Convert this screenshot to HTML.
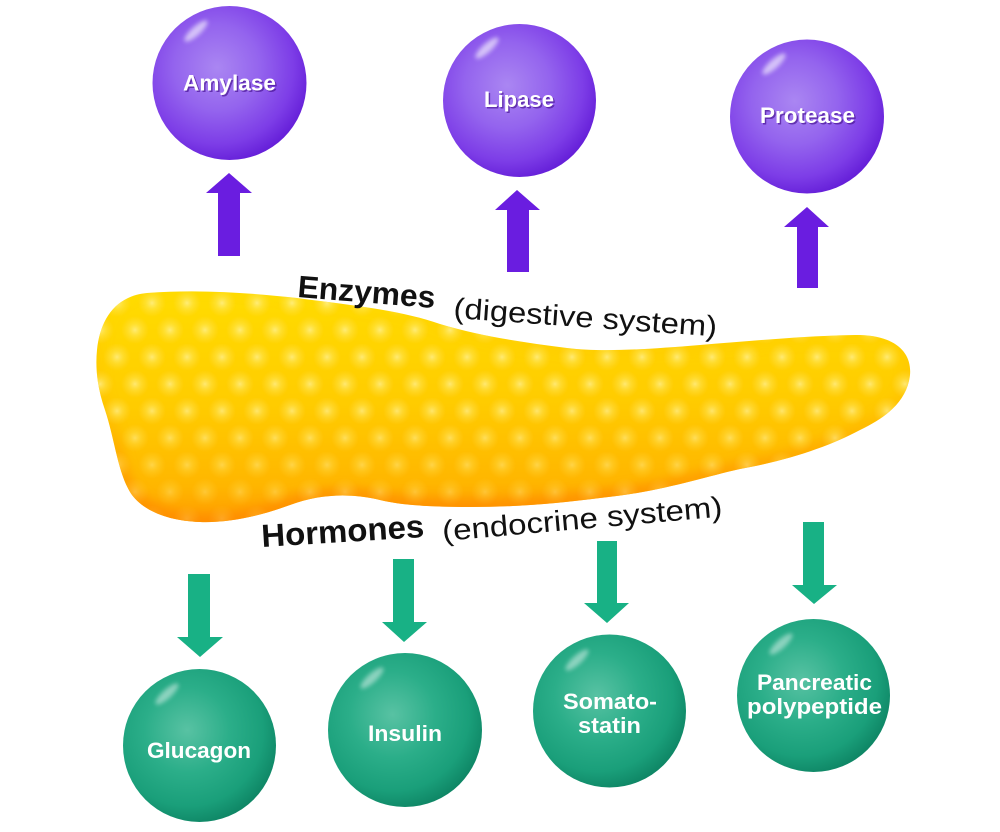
<!DOCTYPE html>
<html><head><meta charset="utf-8"><style>
html,body{margin:0;padding:0;background:#fff;}
svg{display:block;}
</style></head><body>
<svg width="1000" height="832" viewBox="0 0 1000 832" xmlns="http://www.w3.org/2000/svg">
<defs>
<radialGradient id="pg" cx="0.42" cy="0.4" r="0.62">
<stop offset="0" stop-color="#aa86f2"/>
<stop offset="0.45" stop-color="#9464ee"/>
<stop offset="0.8" stop-color="#7d3de7"/>
<stop offset="1" stop-color="#6620d9"/>
</radialGradient>
<radialGradient id="gg" cx="0.42" cy="0.4" r="0.62">
<stop offset="0" stop-color="#58c2a3"/>
<stop offset="0.45" stop-color="#2bae89"/>
<stop offset="0.8" stop-color="#1a9f7a"/>
<stop offset="1" stop-color="#0f8766"/>
</radialGradient>
<filter id="blur2" x="-50%" y="-50%" width="200%" height="200%"><feGaussianBlur stdDeviation="2"/></filter>
<filter id="blur5" x="-20%" y="-20%" width="140%" height="140%"><feGaussianBlur stdDeviation="5"/></filter>
<linearGradient id="yg" x1="0" y1="0" x2="0.05" y2="1">
<stop offset="0" stop-color="#ffdc00"/>
<stop offset="0.5" stop-color="#ffcc00"/>
<stop offset="0.85" stop-color="#ffb600"/>
<stop offset="1" stop-color="#ff9c00"/>
</linearGradient>
<linearGradient id="edgeg" x1="0" y1="0" x2="0" y2="1">
<stop offset="0" stop-color="#ff9800" stop-opacity="0"/>
<stop offset="0.55" stop-color="#ff9800" stop-opacity="0.15"/>
<stop offset="1" stop-color="#ff8c00" stop-opacity="0.9"/>
</linearGradient>
<radialGradient id="dot">
<stop offset="0" stop-color="#fff3a0" stop-opacity="0.75"/>
<stop offset="0.45" stop-color="#ffec70" stop-opacity="0.4"/>
<stop offset="1" stop-color="#ffe060" stop-opacity="0"/>
</radialGradient>
<pattern id="dots" x="100" y="290" width="70" height="54" patternUnits="userSpaceOnUse">
<circle cx="17" cy="13" r="14" fill="url(#dot)"/>
<circle cx="52" cy="13" r="14" fill="url(#dot)"/>
<circle cx="0" cy="40" r="14" fill="url(#dot)"/>
<circle cx="35" cy="40" r="14" fill="url(#dot)"/>
<circle cx="70" cy="40" r="14" fill="url(#dot)"/>
</pattern>
<linearGradient id="fadeg" x1="0" y1="0" x2="0" y2="1">
<stop offset="0" stop-color="#fff"/>
<stop offset="0.5" stop-color="#eee"/>
<stop offset="1" stop-color="#444"/>
</linearGradient>
<mask id="fade" maskUnits="userSpaceOnUse" x="0" y="280" width="1000" height="250">
<rect x="0" y="285" width="1000" height="240" fill="url(#fadeg)"/>
</mask>
<path id="panc" d="M 147 293 C 200 289, 250 293, 297 298 C 350 305, 400 310, 440 324 C 480 336, 520 342, 567 348 C 600 352, 640 350, 700 345 C 760 340, 820 335, 860 335 C 895 336, 912 352, 910 375 C 907 402, 885 418, 860 430 C 830 446, 790 460, 740 469 C 700 478, 660 492, 600 498 C 560 503, 520 507, 470 507 C 430 507, 400 505, 380 500 C 350 493, 320 494, 290 505 C 260 516, 230 523, 200 522 C 170 521, 145 512, 132 495 C 118 475, 115 440, 105 410 C 98 390, 95 370, 97 350 C 100 320, 115 296, 147 293 Z"/>
<clipPath id="pclip"><use href="#panc"/></clipPath>
</defs>

<!-- Pancreas -->
<use href="#panc" fill="url(#yg)"/>
<g clip-path="url(#pclip)">
<use href="#panc" fill="none" stroke="url(#edgeg)" stroke-width="16" filter="url(#blur5)"/>
<rect x="90" y="285" width="830" height="245" fill="url(#dots)" mask="url(#fade)"/>
</g>

<!-- Purple arrows -->
<polygon points="229,173 252,193 240,193 240,256 218,256 218,193 206,193" fill="#6a1de0"/>
<polygon points="517,190 540,210 529,210 529,272 507,272 507,210 495,210" fill="#6a1de0"/>
<polygon points="807,207 829,227 818,227 818,288 797,288 797,227 784,227" fill="#6a1de0"/>

<!-- Green arrows -->
<polygon points="188,574 210,574 210,637 223,637 200,657 177,637 188,637" fill="#18b185"/>
<polygon points="393,559 414,559 414,622 427,622 404,642 382,622 393,622" fill="#18b185"/>
<polygon points="597,541 617,541 617,603 629,603 607,623 584,603 597,603" fill="#18b185"/>
<polygon points="803,522 824,522 824,585 837,585 814,604 792,585 803,585" fill="#18b185"/>

<!-- Purple spheres -->
<g>
<circle cx="229.5" cy="83" r="77" fill="url(#pg)"/>
<ellipse cx="196" cy="31" rx="15" ry="4.5" fill="#fff" opacity="0.6" transform="rotate(-42 196 31)" filter="url(#blur2)"/>
<text x="184.5" y="92.2" textLength="93" lengthAdjust="spacingAndGlyphs" font-family="Liberation Sans, sans-serif" font-weight="bold" font-size="22" fill="#4a1596" opacity="0.7">Amylase</text>
<text x="183" y="90.7" textLength="93" lengthAdjust="spacingAndGlyphs" font-family="Liberation Sans, sans-serif" font-weight="bold" font-size="22" fill="#fff">Amylase</text>
</g>
<g>
<circle cx="519.5" cy="100.5" r="76.5" fill="url(#pg)"/>
<ellipse cx="487" cy="48" rx="15" ry="4.5" fill="#fff" opacity="0.6" transform="rotate(-42 487 48)" filter="url(#blur2)"/>
<text x="485.5" y="108.5" textLength="70" lengthAdjust="spacingAndGlyphs" font-family="Liberation Sans, sans-serif" font-weight="bold" font-size="22" fill="#4a1596" opacity="0.7">Lipase</text>
<text x="484" y="107" textLength="70" lengthAdjust="spacingAndGlyphs" font-family="Liberation Sans, sans-serif" font-weight="bold" font-size="22" fill="#fff">Lipase</text>
</g>
<g>
<circle cx="807" cy="116.5" r="77" fill="url(#pg)"/>
<ellipse cx="774" cy="64" rx="15" ry="4.5" fill="#fff" opacity="0.6" transform="rotate(-42 774 64)" filter="url(#blur2)"/>
<text x="761.5" y="124.5" textLength="95" lengthAdjust="spacingAndGlyphs" font-family="Liberation Sans, sans-serif" font-weight="bold" font-size="22" fill="#4a1596" opacity="0.7">Protease</text>
<text x="760" y="123" textLength="95" lengthAdjust="spacingAndGlyphs" font-family="Liberation Sans, sans-serif" font-weight="bold" font-size="22" fill="#fff">Protease</text>
</g>

<!-- Green spheres -->
<g>
<circle cx="199.5" cy="745.5" r="76.5" fill="url(#gg)"/>
<ellipse cx="167" cy="694" rx="15" ry="4.5" fill="#fff" opacity="0.45" transform="rotate(-42 167 694)" filter="url(#blur2)"/>
<text x="147" y="758" textLength="104" lengthAdjust="spacingAndGlyphs" font-family="Liberation Sans, sans-serif" font-weight="bold" font-size="22" fill="#fff">Glucagon</text>
</g>
<g>
<circle cx="405" cy="730" r="77" fill="url(#gg)"/>
<ellipse cx="372" cy="678" rx="15" ry="4.5" fill="#fff" opacity="0.45" transform="rotate(-42 372 678)" filter="url(#blur2)"/>
<text x="368" y="741" textLength="74" lengthAdjust="spacingAndGlyphs" font-family="Liberation Sans, sans-serif" font-weight="bold" font-size="22" fill="#fff">Insulin</text>
</g>
<g>
<circle cx="609.5" cy="711" r="76.5" fill="url(#gg)"/>
<ellipse cx="577" cy="660" rx="15" ry="4.5" fill="#fff" opacity="0.45" transform="rotate(-42 577 660)" filter="url(#blur2)"/>
<text x="563" y="709" textLength="94" lengthAdjust="spacingAndGlyphs" font-family="Liberation Sans, sans-serif" font-weight="bold" font-size="22" fill="#fff">Somato-</text>
<text x="578" y="733" textLength="63" lengthAdjust="spacingAndGlyphs" font-family="Liberation Sans, sans-serif" font-weight="bold" font-size="22" fill="#fff">statin</text>
</g>
<g>
<circle cx="813.5" cy="695.5" r="76.5" fill="url(#gg)"/>
<ellipse cx="781" cy="644" rx="15" ry="4.5" fill="#fff" opacity="0.45" transform="rotate(-42 781 644)" filter="url(#blur2)"/>
<text x="757" y="690" textLength="115" lengthAdjust="spacingAndGlyphs" font-family="Liberation Sans, sans-serif" font-weight="bold" font-size="22" fill="#fff">Pancreatic</text>
<text x="747" y="714" textLength="135" lengthAdjust="spacingAndGlyphs" font-family="Liberation Sans, sans-serif" font-weight="bold" font-size="22" fill="#fff">polypeptide</text>
</g>

<!-- Labels -->
<text x="297" y="297" transform="rotate(4.6 297 297)" textLength="138" lengthAdjust="spacingAndGlyphs" font-family="Liberation Sans, sans-serif" font-weight="bold" font-size="31" fill="#111">Enzymes</text>
<text x="453" y="318" transform="rotate(4 453 318)" textLength="264" lengthAdjust="spacingAndGlyphs" font-family="Liberation Sans, sans-serif" font-size="29" fill="#111">(digestive system)</text>
<text x="262" y="547" transform="rotate(-3.5 262 547)" textLength="163" lengthAdjust="spacingAndGlyphs" font-family="Liberation Sans, sans-serif" font-weight="bold" font-size="32" fill="#111">Hormones</text>
<text x="443" y="541" transform="rotate(-5 443 541)" textLength="281" lengthAdjust="spacingAndGlyphs" font-family="Liberation Sans, sans-serif" font-size="29" fill="#111">(endocrine system)</text>
</svg>
</body></html>
